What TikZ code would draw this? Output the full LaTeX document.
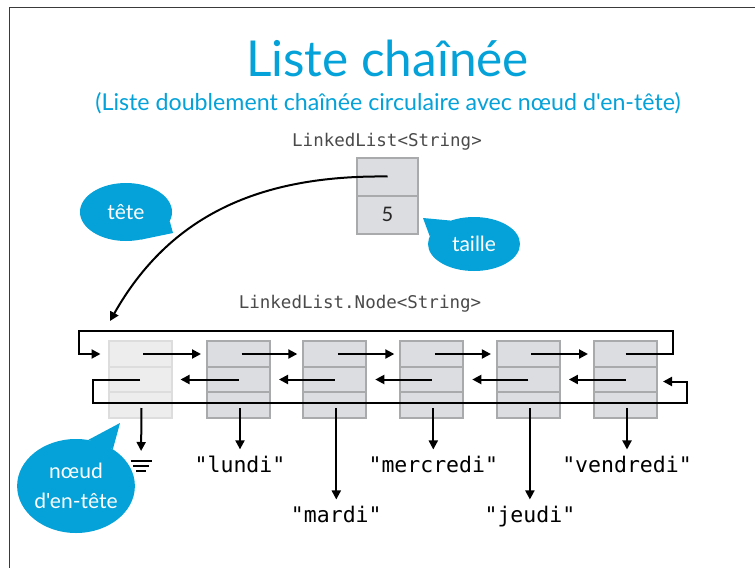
\documentclass[tikz,border=0pt]{standalone}
\usepackage{fontspec}
\setmainfont{Lato}[Ligatures=TeXOff]
\setmonofont{DejaVu Sans Mono}
\usetikzlibrary{arrows.meta,shapes.geometric,calc}
\definecolor{bleu}{HTML}{04A2D8}
\definecolor{cellfill}{HTML}{DCDDE0}
\definecolor{cellline}{HTML}{A9AAAB}
\definecolor{headfill}{HTML}{EDEDED}
\definecolor{headline}{HTML}{DDDDDD}
\definecolor{typecol}{HTML}{4A4A4A}
\definecolor{framecol}{HTML}{3A3A3A}
\begin{document}
\begin{tikzpicture}[x=1pt,y=-1pt,
  cell/.style={draw=cellline, fill=cellfill, line width=2pt, minimum width=63pt, minimum height=25.5pt, inner sep=0pt, outer sep=0pt},
  hcell/.style={cell, draw=headline, fill=headfill},
  tcell/.style={cell, minimum width=61pt, minimum height=38pt, font=\fontsize{20}{22}\selectfont, text=black!85},
  ptr/.style={line width=2pt, -{Triangle[length=9pt,width=9pt]}},
  bub/.style={ellipse, fill=bleu, text=white, inner sep=0pt, font=\fontsize{21}{30}\selectfont, align=center},
  str/.style={font=\ttfamily\fontsize{21.5}{24}\selectfont, inner sep=0pt},
  typ/.style={font=\ttfamily\fontsize{17.5}{20}\selectfont, text=typecol, inner sep=0pt},
  ttl/.style={font=\fontsize{49.5}{56}\selectfont, text=bleu, inner sep=0pt},
  subttl/.style={font=\fontsize{23.2}{26}\selectfont, text=bleu, inner sep=0pt}]
\useasboundingbox (0,0) rectangle (755,568);
\fill[white] (0,0) rectangle (755,568);
\draw[framecol, line width=1.5pt] (755,7.5) -- (9.5,7.5) -- (9.5,568);

% titles
\node[ttl, anchor=base] (title) at (387.5,76) {Liste chaînée};
\node[subttl, anchor=base] (sub) at (388,110) {(Liste doublement chaînée circulaire avec nœud d'en-tête)};
\node[typ, anchor=base] (ltype) at (387,146) {LinkedList<String>};
\node[typ, anchor=base] (ntype) at (360,308) {LinkedList.Node<String>};

% list object
\node[tcell] (ta) at (387.5,176.5) {};
\node[tcell] (tb) at (387.5,214.5) {5};

% bubbles
\node[bub, minimum width=92pt, minimum height=58pt] (tete) at (126,212) {tête};
\fill[bleu] (tete.-12) -- (173,233) -- (tete.-62) -- cycle;
\node[bub, minimum width=92pt, minimum height=54pt] (taille) at (474,244) {taille};
\fill[bleu] (taille.135) -- (423,218) -- (taille.170) -- cycle;
\node[bub, minimum width=114pt, minimum height=94pt] (noeud) at (76,486) {nœud\\d'en-tête};
\fill[bleu] (noeud.45) -- (120,423) -- (noeud.75) -- cycle;

% head pointer
\coordinate (hin) at (110,321);
\draw[ptr] (ta.center) .. controls (260,175) and (170,215) .. (hin);

% list nodes
\node[hcell] (n0-a) at (140,354) {};
\node[hcell] (n0-b) at (140,379.5) {};
\node[hcell] (n0-c) at (140,405) {};
\foreach \i/\x in {1/238.5,2/334.8,3/431.8,4/528.4,5/625.5}{
  \node[cell] (n\i-a) at (\x,354) {};
  \node[cell] (n\i-b) at (\x,379.5) {};
  \node[cell] (n\i-c) at (\x,405) {};
}

% next pointers
\foreach \i/\j in {0/1,1/2,2/3,3/4,4/5}
  \draw[ptr, shorten >=6pt] ($(n\i-a.center)+(3,0)$) -- (n\j-a.west);
% prev pointers
\foreach \i/\j in {1/0,2/1,3/2,4/3,5/4}
  \draw[ptr, shorten >=9pt] (n\i-b.center) -- (n\j-b.east);

% wrap-around pointers
\draw[ptr, shorten >=8pt] (n5-a.center) -- ++(47,0) |- ($(n0-a.west)+(-30,-23)$) |- (n0-a.west);
\draw[ptr, shorten >=6pt] (n0-b.center) -| ($(n0-b.west)+(-16,23.5)$) -| ($(n5-b.east)+(29.5,2)$) -- ($(n5-b.east)+(0,2)$);

% values
\path (n1-c.center) ++(1.5,67) node[str, anchor=base] (s1) {"lundi"};
\path (n2-c.center) ++(1.5,117) node[str, anchor=base] (s2) {"mardi"};
\path (n3-c.center) ++(1.5,67) node[str, anchor=base] (s3) {"mercredi"};
\path (n4-c.center) ++(1.5,117) node[str, anchor=base] (s4) {"jeudi"};
\path (n5-c.center) ++(1.5,67) node[str, anchor=base] (s5) {"vendredi"};
\foreach \k in {1,...,5}
  \draw[ptr, shorten >=6pt] ($(n\k-c.center)+(1.5,3)$) -- (s\k.north);

% null
\coordinate (null) at (141,461);
\draw[ptr, shorten >=10pt] ($(n0-c.center)+(1.5,3)$) -- (null);
\draw[line width=2pt] ($(null)+(-10.5,0)$) -- ++(21,0);
\draw[line width=2pt] ($(null)+(-8,5)$) -- ++(16,0);
\draw[line width=2pt] ($(null)+(-5,10)$) -- ++(10,0);
\end{tikzpicture}
\end{document}
